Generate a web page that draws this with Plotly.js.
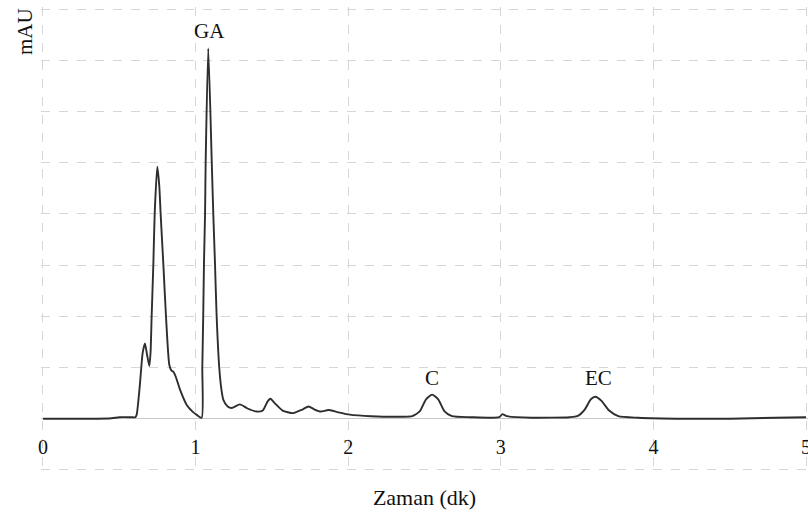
<!DOCTYPE html>
<html>
<head>
<meta charset="utf-8">
<script src="https://cdn.plot.ly/plotly-3.0.1.min.js"></script>
<style>html,body{margin:0;padding:0;background:#fff;}#chart{width:808px;height:512px;}</style>
</head>
<body>
<div id="chart"></div>
<script>
// Retention time (min) and detector signal (mAU, relative units)
const timeMin = [
  0.00, 0.30, 0.45, 0.50, 0.58, 0.605, 0.614, 0.625, 0.636, 0.653, 0.668, 0.682, 0.697, 0.705,
  0.712, 0.723, 0.732, 0.749, 0.762, 0.771, 0.789, 0.806, 0.828, 0.842, 0.854, 0.870, 0.898,
  0.942, 0.98, 1.01, 1.040, 1.044, 1.050, 1.055, 1.062, 1.066, 1.083, 1.106, 1.116, 1.127,
  1.138, 1.155, 1.168, 1.182, 1.21, 1.237, 1.29, 1.34, 1.40, 1.44, 1.47, 1.49, 1.52, 1.57,
  1.64, 1.70, 1.74, 1.78, 1.82, 1.87, 1.93, 2.01, 2.15, 2.35, 2.42, 2.47, 2.51, 2.55, 2.59,
  2.63, 2.68, 2.80, 2.99, 3.01, 3.04, 3.20, 3.45, 3.50, 3.55, 3.59, 3.62, 3.66, 3.71, 3.77,
  3.90, 4.20, 4.50, 4.80, 5.00
];
const signal = [
  0.00, 0.00, 0.01, 0.03, 0.03, 0.03, 0.08, 0.35, 0.70, 1.28, 1.47, 1.25, 1.03, 1.30,
  2.00, 3.00, 4.00, 4.92, 4.55, 4.00, 3.00, 2.00, 1.05, 0.94, 0.92, 0.82, 0.57,
  0.27, 0.14, 0.07, 0.02, 1.00, 2.00, 3.04, 4.00, 5.00, 7.23, 5.00, 4.00, 3.04,
  2.00, 1.00, 0.60, 0.37, 0.24, 0.21, 0.28, 0.20, 0.14, 0.16, 0.33, 0.39, 0.30, 0.16,
  0.11, 0.18, 0.24, 0.18, 0.14, 0.17, 0.13, 0.08, 0.05, 0.04, 0.05, 0.15, 0.38, 0.47, 0.38,
  0.15, 0.05, 0.03, 0.03, 0.09, 0.05, 0.02, 0.03, 0.05, 0.18, 0.38, 0.43, 0.35, 0.16, 0.05,
  0.02, 0.00, 0.00, 0.02, 0.03
];
// Peak labels
const peakNames = ["GA", "C", "EC"];
const peakX = [1.088, 2.55, 3.64];
const peakY = [7.58, 0.80, 0.80];
const xTicks = [0, 1, 2, 3, 4, 5];

const serif = "'Liberation Serif', 'Times New Roman', serif";
const gridCol = "#d6d6d6";

const trace = {
  x: timeMin, y: signal, type: "scatter", mode: "lines",
  line: {color: "#2e2e2e", width: 1.9, shape: "spline", smoothing: 0.6},
  hoverinfo: "skip", cliponaxis: true
};

const annotations = peakNames.map((t, i) => ({
  x: peakX[i], y: peakY[i], xref: "x", yref: "y", text: t, showarrow: false,
  xanchor: "center", yanchor: "middle",
  font: {family: serif, size: 21, color: "#111"}
}));
annotations.push({
  xref: "paper", yref: "paper", x: -0.021, y: 0.948, text: "mAU", textangle: -90,
  xanchor: "center", yanchor: "middle",
  showarrow: false, font: {family: serif, size: 21, color: "#111"}
});

const yMin = -1.04, yMax = 8.04;
const layout = {
  width: 808, height: 512,
  margin: {l: 41, r: 0, t: 7, b: 40},
  paper_bgcolor: "#fff", plot_bgcolor: "#fff",
  showlegend: false,
  font: {family: serif, size: 20, color: "#111"},
  xaxis: {
    range: [-0.013, 5.013], tickvals: xTicks, ticktext: xTicks.map(String),
    anchor: "free", position: (0 - yMin) / (yMax - yMin),
    showgrid: true, gridcolor: gridCol, griddash: "dash", gridwidth: 1,
    zeroline: false, showline: false, ticks: "",
    ticklabelstandoff: 14, ticklabeloverflow: "allow",
    tickfont: {family: serif, size: 20, color: "#111"},
    title: {text: "Zaman (dk)", font: {family: serif, size: 22, color: "#111"}, standoff: 32},
    automargin: false, fixedrange: true
  },
  yaxis: {
    range: [yMin, yMax], dtick: 1, tick0: 0,
    showgrid: true, gridcolor: gridCol, griddash: "dash", gridwidth: 1,
    zeroline: true, zerolinecolor: "#c8c8c8", zerolinewidth: 1,
    showline: false, ticks: "", showticklabels: false,
    automargin: false, fixedrange: true
  },
  annotations: annotations
};

Plotly.newPlot("chart", [trace], layout, {displayModeBar: false, staticPlot: true});
</script>
</body>
</html>
